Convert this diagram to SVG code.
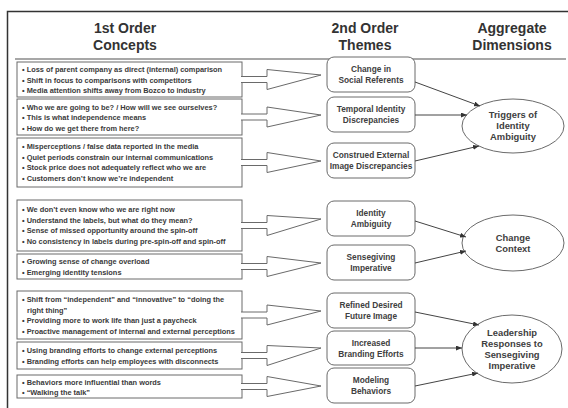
<svg xmlns="http://www.w3.org/2000/svg" width="568" height="408" viewBox="0 0 568 408">
<style>
.bg{fill:#ffffff}
.frame{stroke:#333;stroke-width:1.5;fill:none}
.uline{stroke:#8a8a8a;stroke-width:1.5;fill:none}
.hd{font-family:"Liberation Sans",Arial,sans-serif;font-size:14px;font-weight:bold;fill:#333;text-anchor:middle}
.box{fill:#fff;stroke:#6a6a6a;stroke-width:1}
.bt{font-family:"Liberation Sans",Arial,sans-serif;font-size:7.4px;font-weight:bold;fill:#3a3a3a}
.blk{fill:#fff;stroke:#6a6a6a;stroke-width:1;stroke-linejoin:miter}
.th{fill:#fff;stroke:#6a6a6a;stroke-width:1}
.tt{font-family:"Liberation Sans",Arial,sans-serif;font-size:8.3px;font-weight:bold;fill:#404040;text-anchor:middle}
.el{fill:#fff;stroke:#6a6a6a;stroke-width:1}
.et{font-family:"Liberation Sans",Arial,sans-serif;font-size:9.4px;font-weight:bold;fill:#404040;text-anchor:middle}
.cn{stroke:#444;stroke-width:1;fill:none;marker-end:url(#ah)}
</style>
<defs>
<marker id="ah" markerWidth="6" markerHeight="5" refX="6" refY="2.5" orient="auto" markerUnits="userSpaceOnUse">
<path d="M0,0 L6,2.5 L0,5 z" fill="#333"/>
</marker>
</defs>
<rect class="bg" x="0" y="0" width="568" height="408"/>
<g id="frame">
<path class="frame" d="M7.5,408 V11.5 H568"/>
<path class="uline" d="M15,59 H566"/>
</g>
<g id="headers">
<text class="hd" x="125" y="33">1st Order</text>
<text class="hd" x="125" y="50">Concepts</text>
<text class="hd" x="365" y="33">2nd Order</text>
<text class="hd" x="365" y="50">Themes</text>
<text class="hd" x="512" y="33">Aggregate</text>
<text class="hd" x="512" y="50">Dimensions</text>
</g>
<g id="concept1">
<rect class="box" x="17" y="62" width="225" height="35"/>
<text class="bt" x="22" y="72">• Loss of parent company as direct (internal) comparison</text>
<text class="bt" x="22" y="82.5">• Shift in focus to comparisons with competitors</text>
<text class="bt" x="22" y="93">• Media attention shifts away from Bozco to industry</text>
</g>
<g id="concept2">
<rect class="box" x="17" y="99" width="225" height="36"/>
<text class="bt" x="22" y="109.5">• Who we are going to be? / How will we see ourselves?</text>
<text class="bt" x="22" y="120">• This is what independence means</text>
<text class="bt" x="22" y="130.5">• How do we get there from here?</text>
</g>
<g id="concept3">
<rect class="box" x="17" y="138" width="225" height="49"/>
<text class="bt" x="22" y="149">• Misperceptions / false data reported in the media</text>
<text class="bt" x="22" y="159.5">• Quiet periods constrain our internal communications</text>
<text class="bt" x="22" y="170">• Stock price does not adequately reflect who we are</text>
<text class="bt" x="22" y="180.5">• Customers don’t know we’re independent</text>
</g>
<g id="concept4">
<rect class="box" x="17" y="200" width="225" height="51"/>
<text class="bt" x="22" y="212">• We don’t even know who we are right now</text>
<text class="bt" x="22" y="222.5">• Understand the labels, but what do they mean?</text>
<text class="bt" x="22" y="233">• Sense of missed opportunity around the spin-off</text>
<text class="bt" x="22" y="243.5">• No consistency in labels during pre-spin-off and spin-off</text>
</g>
<g id="concept5">
<rect class="box" x="17" y="254" width="225" height="25"/>
<text class="bt" x="22" y="264">• Growing sense of change overload</text>
<text class="bt" x="22" y="274.5">• Emerging identity tensions</text>
</g>
<g id="concept6">
<rect class="box" x="17" y="291" width="225" height="48"/>
<text class="bt" x="22" y="302">• Shift from “independent” and “innovative” to “doing the</text>
<text class="bt" x="27" y="312.5">right thing”</text>
<text class="bt" x="22" y="323">• Providing more to work life than just a paycheck</text>
<text class="bt" x="22" y="333.5">• Proactive management of internal and external perceptions</text>
</g>
<g id="concept7">
<rect class="box" x="17" y="342" width="225" height="27"/>
<text class="bt" x="22" y="353">• Using branding efforts to change external perceptions</text>
<text class="bt" x="22" y="363.5">• Branding efforts can help employees with disconnects</text>
</g>
<g id="concept8">
<rect class="box" x="17" y="375" width="225" height="23"/>
<text class="bt" x="22" y="384.5">• Behaviors more influential than words</text>
<text class="bt" x="22" y="395">• “Walking the talk”</text>
</g>
<g id="block-arrows">
<polyline class="blk" points="241,76.5 267,76.5 267,69.5 321,75 267,89.5 267,82.5 241,82.5"/>
<polyline class="blk" points="241,114 267,114 267,107 321,115 267,127 267,120 241,120"/>
<polyline class="blk" points="241,159.5 267,159.5 267,152.5 321,161 267,172.5 267,165.5 241,165.5"/>
<polyline class="blk" points="241,222.5 267,222.5 267,215.5 321,219 267,235.5 267,228.5 241,228.5"/>
<polyline class="blk" points="241,263.5 267,263.5 267,256.5 321,263 267,276.5 267,269.5 241,269.5"/>
<polyline class="blk" points="241,312 267,312 267,305 321,311 267,325 267,318 241,318"/>
<polyline class="blk" points="241,352.5 267,352.5 267,345.5 321,348 267,365.5 267,358.5 241,358.5"/>
<polyline class="blk" points="241,383.5 267,383.5 267,376.5 321,386 267,396.5 267,389.5 241,389.5"/>
</g>
<g id="theme1"><rect class="th" x="327" y="57" width="88" height="35" rx="7"/><text class="tt" x="371" y="72">Change in</text><text class="tt" x="371" y="83">Social Referents</text></g>
<g id="theme2"><rect class="th" x="327" y="97" width="88" height="35" rx="7"/><text class="tt" x="371" y="112">Temporal Identity</text><text class="tt" x="371" y="123">Discrepancies</text></g>
<g id="theme3"><rect class="th" x="327" y="143" width="88" height="35" rx="7"/><text class="tt" x="371" y="158">Construed External</text><text class="tt" x="371" y="169">Image Discrepancies</text></g>
<g id="theme4"><rect class="th" x="327" y="201" width="88" height="35" rx="7"/><text class="tt" x="371" y="216">Identity</text><text class="tt" x="371" y="227">Ambiguity</text></g>
<g id="theme5"><rect class="th" x="327" y="245" width="88" height="35" rx="7"/><text class="tt" x="371" y="260">Sensegiving</text><text class="tt" x="371" y="271">Imperative</text></g>
<g id="theme6"><rect class="th" x="327" y="293" width="88" height="35" rx="7"/><text class="tt" x="371" y="308">Refined Desired</text><text class="tt" x="371" y="319">Future Image</text></g>
<g id="theme7"><rect class="th" x="327" y="331" width="88" height="34" rx="7"/><text class="tt" x="371" y="345.5">Increased</text><text class="tt" x="371" y="356.5">Branding Efforts</text></g>
<g id="theme8"><rect class="th" x="327" y="368" width="88" height="35" rx="7"/><text class="tt" x="371" y="383">Modeling</text><text class="tt" x="371" y="394">Behaviors</text></g>
<g id="dim1"><ellipse class="el" cx="513" cy="126" rx="51" ry="27"/><text class="et" x="513" y="118">Triggers of</text><text class="et" x="513" y="129">Identity</text><text class="et" x="513" y="140">Ambiguity</text></g>
<g id="dim2"><ellipse class="el" cx="513" cy="243" rx="51" ry="28"/><text class="et" x="513" y="241">Change</text><text class="et" x="513" y="252">Context</text></g>
<g id="dim3"><ellipse class="el" cx="512" cy="349" rx="50" ry="34"/><text class="et" x="512" y="336">Leadership</text><text class="et" x="512" y="347">Responses to</text><text class="et" x="512" y="358">Sensegiving</text><text class="et" x="512" y="369">Imperative</text></g>
<g id="connectors">
<line class="cn" x1="415" y1="82" x2="480" y2="106"/>
<line class="cn" x1="415" y1="115" x2="467" y2="115"/>
<line class="cn" x1="415" y1="161" x2="479" y2="146"/>
<line class="cn" x1="415" y1="221" x2="466" y2="237"/>
<line class="cn" x1="415" y1="263" x2="466" y2="251"/>
<line class="cn" x1="415" y1="312" x2="479" y2="325"/>
<line class="cn" x1="415" y1="348" x2="462" y2="348"/>
<line class="cn" x1="415" y1="386" x2="478" y2="373"/>
</g>
</svg>
